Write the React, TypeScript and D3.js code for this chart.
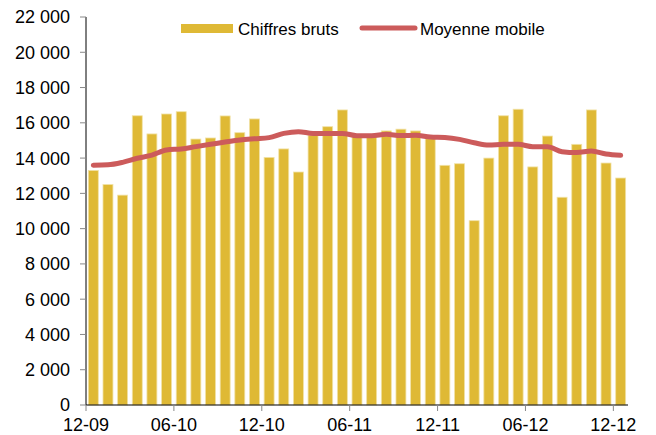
import { useEffect, useRef } from 'react';
import * as d3 from 'd3';

const months = [
  '12-09', '01-10', '02-10', '03-10', '04-10', '05-10', '06-10', '07-10', '08-10', '09-10', '10-10', '11-10',
  '12-10', '01-11', '02-11', '03-11', '04-11', '05-11', '06-11', '07-11', '08-11', '09-11', '10-11', '11-11',
  '12-11', '01-12', '02-12', '03-12', '04-12', '05-12', '06-12', '07-12', '08-12', '09-12', '10-12', '11-12',
  '12-12',
];

const rawValues = [
  13300, 12500, 11900, 16400, 15370, 16500, 16630, 15080, 15140, 16390, 15440, 16220,
  14040, 14520, 13210, 15300, 15780, 16730, 15200, 15200, 15540, 15640, 15540, 15100,
  13590, 13680, 10450, 14000, 16400, 16770, 13500, 15250, 11780, 14780, 16730, 13720,
  12870,
];

const movingAvg = [
  13600, 13620, 13760, 13990, 14170, 14460, 14520, 14650, 14780, 14910, 15030, 15100,
  15160, 15400, 15500, 15400, 15400, 15400, 15270, 15270, 15350, 15280, 15290, 15200,
  15170, 15060, 14870, 14740, 14780, 14780, 14650, 14650, 14360, 14310, 14400, 14230,
  14160,
];

const xTickLabels = ['12-09', '06-10', '12-10', '06-11', '12-11', '06-12', '12-12'];
const yTicks = d3.range(0, 22001, 2000);

export default function App() {
  const svgRef = useRef<SVGSVGElement | null>(null);

  useEffect(() => {
    if (!svgRef.current) return;
    const svg = d3.select(svgRef.current);
    svg.selectAll('*').remove();

    const left = 86, right = 628, top = 17, bottom = 405;
    const font = '"Liberation Sans", Arial, sans-serif';
    const barColor = '#dfb935';
    const lineColor = '#cc5b5b';

    const x = d3.scaleBand<string>().domain(months).range([left, right]).paddingInner(0.32).paddingOuter(0.16);
    const bandStep = (right - left) / months.length;
    const y = d3.scaleLinear().domain([0, 22000]).range([bottom, top]);

    const locale = d3.formatLocale({ decimal: ',', thousands: '\u00a0', grouping: [3], currency: ['', ' €'] });
    const fmt = locale.format(',d');

    // bars
    svg.append('g')
      .selectAll('rect')
      .data(rawValues)
      .enter()
      .append('rect')
      .attr('x', (d, i) => x(months[i])!)
      .attr('y', d => y(d))
      .attr('width', x.bandwidth())
      .attr('height', d => bottom - y(d))
      .attr('fill', barColor)
      .attr('stroke', '#f1e2a6')
      .attr('stroke-width', 0.8);

    // moving average
    const line = d3.line<number>()
      .x((d, i) => x(months[i])! + x.bandwidth() / 2)
      .y(d => y(d))
      .curve(d3.curveMonotoneX);

    svg.append('path')
      .datum(movingAvg)
      .attr('d', line)
      .attr('fill', 'none')
      .attr('stroke', lineColor)
      .attr('stroke-width', 5)
      .attr('stroke-linecap', 'round');

    // y axis
    const yAxis = svg.append('g');
    yAxis.append('line')
      .attr('x1', left).attr('x2', left).attr('y1', top).attr('y2', bottom)
      .attr('stroke', '#000').attr('stroke-width', 1);
    yTicks.forEach(t => {
      yAxis.append('line')
        .attr('x1', left - 6).attr('x2', left).attr('y1', y(t)).attr('y2', y(t))
        .attr('stroke', '#888').attr('stroke-width', 1);
      yAxis.append('text')
        .attr('x', left - 16)
        .attr('y', y(t))
        .attr('dy', '0.36em')
        .attr('text-anchor', 'end')
        .style('font-family', font)
        .style('font-size', '18px')
        .attr('fill', '#000')
        .text(fmt(t));
    });

    // x axis
    const xAxis = svg.append('g');
    xAxis.append('line')
      .attr('x1', left).attr('x2', right).attr('y1', bottom).attr('y2', bottom)
      .attr('stroke', '#000').attr('stroke-width', 1.2);
    xTickLabels.forEach(lbl => {
      const i = months.indexOf(lbl);
      const xp = left + i * bandStep;
      xAxis.append('line')
        .attr('x1', xp).attr('x2', xp).attr('y1', bottom).attr('y2', bottom + 6)
        .attr('stroke', '#888').attr('stroke-width', 1);
      xAxis.append('text')
        .attr('x', xp)
        .attr('y', bottom + 26)
        .attr('text-anchor', 'middle')
        .style('font-family', font)
        .style('font-size', '18px')
        .attr('fill', '#000')
        .text(lbl);
    });

    // legend
    const legend = svg.append('g');
    legend.append('rect')
      .attr('x', 181).attr('y', 24).attr('width', 52).attr('height', 9)
      .attr('fill', barColor);
    legend.append('text')
      .attr('x', 238).attr('y', 29).attr('dy', '0.36em')
      .style('font-family', font).style('font-size', '17px')
      .text('Chiffres bruts');
    legend.append('line')
      .attr('x1', 362).attr('x2', 415).attr('y1', 28).attr('y2', 28)
      .attr('stroke', lineColor).attr('stroke-width', 5).attr('stroke-linecap', 'round');
    legend.append('text')
      .attr('x', 420).attr('y', 29).attr('dy', '0.36em')
      .style('font-family', font).style('font-size', '17px')
      .text('Moyenne mobile');
  }, []);

  return (
    <svg
      ref={svgRef}
      width={656}
      height={435}
      style={{ position: 'absolute', left: 0, top: 0, background: '#fff' }}
    />
  );
}
